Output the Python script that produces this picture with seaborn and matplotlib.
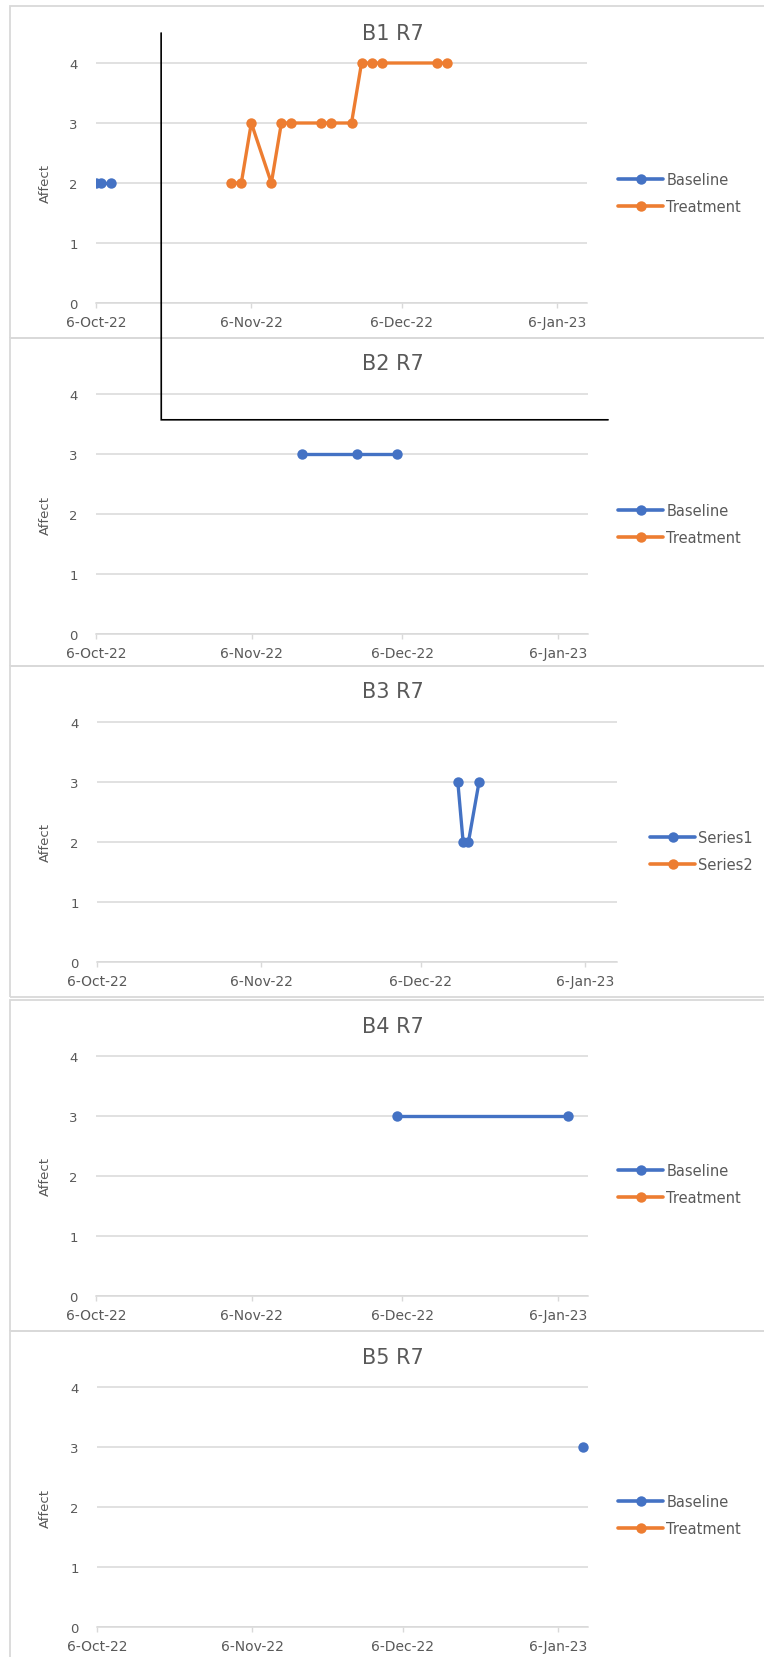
import pandas as pd
import matplotlib
matplotlib.use("Agg")
import matplotlib.pyplot as plt
import matplotlib.dates as mdates
from matplotlib.lines import Line2D
from matplotlib.patches import Rectangle
import seaborn as sns

# ---------------- data ----------------
b1_baseline_dates = ["2022-10-06", "2022-10-07", "2022-10-09"]
b1_baseline_vals = [2, 2, 2]
b1_treatment_dates = ["2022-11-02", "2022-11-04", "2022-11-06", "2022-11-10",
                      "2022-11-12", "2022-11-14", "2022-11-20", "2022-11-22",
                      "2022-11-26", "2022-11-28", "2022-11-30", "2022-12-02",
                      "2022-12-13", "2022-12-15"]
b1_treatment_vals = [2, 2, 3, 2, 3, 3, 3, 3, 3, 4, 4, 4, 4, 4]

b2_baseline_dates = ["2022-11-16", "2022-11-27", "2022-12-05"]
b2_baseline_vals = [3, 3, 3]

b3_series1_dates = ["2022-12-13", "2022-12-14", "2022-12-15", "2022-12-17"]
b3_series1_vals = [3, 2, 2, 3]

b4_baseline_dates = ["2022-12-05", "2023-01-08"]
b4_baseline_vals = [3, 3]

b5_baseline_dates = ["2023-01-11"]
b5_baseline_vals = [3]

empty_dates, empty_vals = [], []

tick_dates = ["2022-10-06", "2022-11-06", "2022-12-06", "2023-01-06"]
tick_labels = ["6-Oct-22", "6-Nov-22", "6-Dec-22", "6-Jan-23"]
x_start, x_end = "2022-10-06", "2023-01-12"
y_ticks = [0, 1, 2, 3, 4]

# phase-change divider between baseline and treatment
phase_date = "2022-10-19"
phase_level = 3.57
phase_end = "2023-01-16"

# ---------------- style ----------------
W, H = 764, 1658
sns.set_theme(style="white")
plt.rcParams["font.family"] = ["DejaVu Sans"]

BLUE = "#4472C4"
ORANGE = "#ED7D31"
GRID = "#D9D9D9"
TXT = "#595959"

fig = plt.figure(figsize=(W / 100, H / 100), dpi=100)
fig.patch.set_facecolor("white")


def fx(x):
    return x / W


def fy(y):
    return 1 - y / H


panels = [
    dict(title="B1 R7", names=("Baseline", "Treatment"),
         series=[(b1_baseline_dates, b1_baseline_vals), (b1_treatment_dates, b1_treatment_vals)],
         box=(7, 339), plot=(96, 587, 304, 60), title_y=34, leg=(618, 194)),
    dict(title="B2 R7", names=("Baseline", "Treatment"),
         series=[(b2_baseline_dates, b2_baseline_vals), (empty_dates, empty_vals)],
         box=(339, 667), plot=(96, 588, 635, 60), title_y=364, leg=(618, 525)),
    dict(title="B3 R7", names=("Series1", "Series2"),
         series=[(b3_series1_dates, b3_series1_vals), (empty_dates, empty_vals)],
         box=(667, 998), plot=(97, 617, 963, 60), title_y=692, leg=(650, 852)),
    dict(title="B4 R7", names=("Baseline", "Treatment"),
         series=[(b4_baseline_dates, b4_baseline_vals), (empty_dates, empty_vals)],
         box=(1001, 1332), plot=(96, 588, 1297, 60), title_y=1027, leg=(618, 1185)),
    dict(title="B5 R7", names=("Baseline", "Treatment"),
         series=[(b5_baseline_dates, b5_baseline_vals), (empty_dates, empty_vals)],
         box=(1332, 1680), plot=(97, 588, 1628, 60), title_y=1358, leg=(618, 1516)),
]

axes = []
for p in panels:
    top, bottom = p["box"]
    fig.add_artist(Rectangle((fx(10), fy(bottom)), fx(790) - fx(10), fy(top) - fy(bottom),
                             transform=fig.transFigure, fill=False, ec=GRID, lw=1.3))

    x0, xr, y0, ppu = p["plot"]
    ymax = 4.5
    ax = fig.add_axes([fx(x0), fy(y0), (xr - x0) / W, ymax * ppu / H])
    ax.set_facecolor("none")

    for (dates, vals), color in zip(p["series"], (BLUE, ORANGE)):
        if len(dates) == 0:
            continue
        df = pd.DataFrame({"date": pd.to_datetime(dates), "value": vals})
        sns.lineplot(data=df, x="date", y="value", ax=ax, color=color,
                     marker="o", markersize=7.5, markeredgewidth=0,
                     linewidth=2.4, estimator=None, sort=False, legend=False)

    ax.set_xlim(pd.Timestamp(x_start), pd.Timestamp(x_end))
    ax.set_ylim(0, ymax)
    ax.set_yticks(y_ticks)
    ax.set_xticks(pd.to_datetime(tick_dates))
    ax.set_xticklabels(tick_labels)
    ax.grid(axis="y", color=GRID, lw=1.1)
    ax.grid(axis="x", visible=False)
    for s in ("left", "top", "right"):
        ax.spines[s].set_visible(False)
    ax.spines["bottom"].set_color(GRID)
    ax.spines["bottom"].set_linewidth(1.1)
    ax.tick_params(axis="x", length=3.5, width=1, color=GRID, direction="out",
                   pad=5, labelsize=10, labelcolor=TXT, bottom=True)
    ax.tick_params(axis="y", length=0, pad=13, labelsize=9.5, labelcolor=TXT)
    ax.set_xlabel("")
    ax.set_ylabel("Affect", fontsize=9.5, color=TXT)
    ax.yaxis.set_label_coords((52 - x0) / (xr - x0), 2.0 / ymax)

    fig.text(fx(393), fy(p["title_y"]), p["title"], ha="center", va="center",
             fontsize=15, color=TXT)

    handles = [Line2D([], [], color=c, marker="o", markersize=7.5, markeredgewidth=0, lw=2.6)
               for c in (BLUE, ORANGE)]
    lx, ly = p["leg"]
    leg = ax.legend(handles, p["names"], loc="center left",
                    bbox_to_anchor=(fx(lx), fy(ly)), bbox_transform=fig.transFigure,
                    frameon=False, fontsize=10.5, handlelength=3.1, handletextpad=0.2,
                    labelspacing=0.8, borderpad=0, borderaxespad=0)
    for t in leg.get_texts():
        t.set_color(TXT)
    axes.append(ax)

# divider line running from the top of B1 down into B2 and across
to_fig = fig.transFigure.inverted()
pd_num = mdates.date2num(pd.Timestamp(phase_date))
end_num = mdates.date2num(pd.Timestamp(phase_end))
p_top = to_fig.transform(axes[0].transData.transform((pd_num, 4.5)))
p_corner = to_fig.transform(axes[1].transData.transform((pd_num, phase_level)))
p_end = to_fig.transform(axes[1].transData.transform((end_num, phase_level)))
fig.add_artist(Line2D([p_top[0], p_corner[0], p_end[0]], [p_top[1], p_corner[1], p_end[1]],
                      transform=fig.transFigure, color="black", lw=1.2,
                      solid_joinstyle="miter"))

fig.savefig("out.png", dpi=100, facecolor="white")
